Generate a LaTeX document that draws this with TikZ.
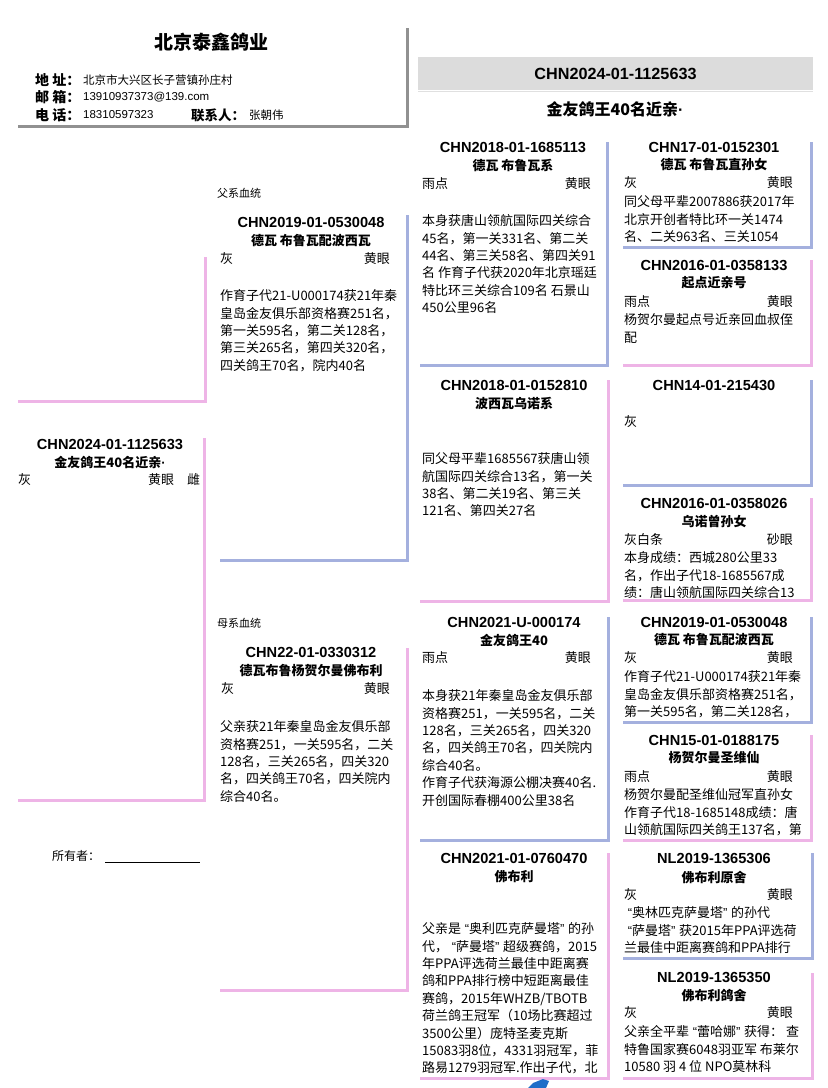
\documentclass[tikz,border=0pt]{standalone}
\usepackage{fontspec}
\setmainfont{Noto Sans CJK SC}
\newfontfamily\lat{Liberation Sans}
\newcommand\oq{\hbox to 8pt{\hss\lat “}}
\newcommand\cq{\hbox to 8pt{\lat ”\hss}}
\newcommand\mdot{{\lat ·}}
\definecolor{bl}{RGB}{164,176,222}
\definecolor{pk}{RGB}{238,180,230}
\definecolor{shd}{RGB}{145,145,145}
\definecolor{bandc}{RGB}{220,220,220}
\definecolor{logo}{RGB}{30,110,200}
\begin{document}
\begin{tikzpicture}[x=1pt,y=-1pt,
  cardbox/.style={anchor=north west, inner sep=0, outer sep=0},
  idt/.style={font=\lat\bfseries\fontsize{14.6}{16}\selectfont, inner sep=0},
  nmt/.style={font=\bfseries\fontsize{13}{16}\selectfont, inner sep=0},
  txt/.style={font=\fontsize{13}{17.4}\selectfont, inner sep=0},
  bodyt/.style={font=\fontsize{13}{17.4}\selectfont, inner sep=0, anchor=north west, align=left},
  labt/.style={font=\bfseries\fontsize{14}{16}\selectfont, inner sep=0, anchor=west},
  valt/.style={font=\fontsize{11.5}{14}\selectfont, inner sep=0, anchor=west},
  mb/.style={draw=bl, line width=3pt, line join=miter},
  fb/.style={draw=pk, line width=3pt, line join=miter},
]
\useasboundingbox[fill=white] (0,0) rectangle (828,1088);

% ---------- header ----------
\node[cardbox, minimum width=389, minimum height=98] (hdr) at (18,28) {};
\draw[draw=shd, line width=3pt] (hdr.north east) -- (hdr.south east) -- (hdr.south west);
\node[font=\bfseries\fontsize{19}{22}\selectfont, inner sep=0] (title) at (211,42) {北京泰鑫鸽业};
\node[labt] (l1) at (35,80) {地 址：};
\node[valt] (v1) at (83,80) {北京市大兴区长子营镇孙庄村};
\node[labt] (l2) at (35,97) {邮 箱：};
\node[valt, font=\lat\fontsize{11.5}{14}\selectfont] (v2) at (83,97) {13910937373@139.com};
\node[labt] (l3) at (35,115) {电 话：};
\node[valt, font=\lat\fontsize{11.5}{14}\selectfont] (v3) at (83,115) {18310597323};
\node[labt, font=\bfseries\fontsize{13.5}{16}\selectfont] (l4) at (191,115) {联系人：};
\node[valt] (v4) at (249,115) {张朝伟};

% ---------- top right band ----------
\draw[draw=black!12, line width=1.5pt] (418,91.5) -- (813,91.5);
\node[cardbox, fill=bandc, minimum width=395, minimum height=33] (band) at (418,57) {};
\node[font=\lat\bfseries\fontsize{16.2}{18}\selectfont, inner sep=0] (bandid) at (band.center) {CHN2024-01-1125633};
\node[font=\bfseries\fontsize{16}{18}\selectfont, inner sep=0] (bandnm) at (615,109) {金友鸽王40名近亲\mdot};

% ---------- subject column ----------
\node[cardbox, minimum width=187, minimum height=144] (sp) at (18,257) {};
\draw[fb] (sp.north east) -- (sp.south east) -- (sp.south west);
\node[cardbox, minimum width=186, minimum height=362] (subj) at (18,438) {};
\draw[fb] (subj.north east) -- (subj.south east) -- (subj.south west);
\node[idt] (sid) at (110,444) {CHN2024-01-1125633};
\node[nmt] (snm) at (110,462) {金友鸽王40名近亲\mdot};
\node[txt, anchor=west] (sc) at (18,480) {灰};
\node[txt, anchor=west] (se) at (148,480) {黄眼};
\node[txt, anchor=west] (ss) at (187,480) {雌};
\node[font=\fontsize{12}{14}\selectfont, inner sep=0, anchor=west] (own) at (52,856) {所有者：};
\coordinate (ownend) at (200,862);
\draw[line width=0.8pt] (own.east |- ownend) ++(5,0) -- (ownend);

% ---------- parents ----------
\node[font=\fontsize{11}{13}\selectfont, inner sep=0, anchor=west] (fx) at (217,193) {父系血统};
\node[cardbox, minimum width=187, minimum height=345] (sire) at (220,215) {};
\draw[mb] (sire.north east) -- (sire.south east) -- (sire.south west);
\node[idt] (sireid) at (311,222) {CHN2019-01-0530048};
\node[nmt] (sirenm) at (311,241) {德瓦 布鲁瓦配波西瓦};
\node[txt, anchor=west] (sirec) at (220,259) {灰};
\node[txt, anchor=east] (siree) at (390,259) {黄眼};
\node[bodyt] (sireb) at (220,289.5) {作育子代21-U000174获21年秦\\皇岛金友俱乐部资格赛251名，\\第一关595名，第二关128名，\\第三关265名，第四关320名，\\四关鸽王70名，院内40名};

\node[font=\fontsize{11}{13}\selectfont, inner sep=0, anchor=west] (mx) at (217,623) {母系血统};
\node[cardbox, minimum width=187, minimum height=342] (dam) at (220,648) {};
\draw[fb] (dam.north east) -- (dam.south east) -- (dam.south west);
\node[idt] (damid) at (311,652) {CHN22-01-0330312};
\node[nmt] (damnm) at (311,671) {德瓦布鲁杨贺尔曼佛布利};
\node[txt, anchor=west] (damc) at (221,689) {灰};
\node[txt, anchor=east] (dame) at (390,689) {黄眼};
\node[bodyt] (damb) at (220,720.5) {父亲获21年秦皇岛金友俱乐部\\资格赛251，一关595名，二关\\128名，三关265名，四关320\\名，四关鸽王70名，四关院内\\综合40名。};

% ---------- grandparents ----------
\node[cardbox, minimum width=187, minimum height=223] (gA) at (420,142) {};
\draw[mb] (gA.north east) -- (gA.south east) -- (gA.south west);
\node[idt] (gAid) at (513,147) {CHN2018-01-1685113};
\node[nmt] (gAnm) at (513,165) {德瓦 布鲁瓦系};
\node[txt, anchor=west] (gAc) at (422,184) {雨点};
\node[txt, anchor=east] (gAe) at (591,184) {黄眼};
\node[bodyt] (gAb) at (422,214.5) {本身获唐山领航国际四关综合\\45名，第一关331名、第二关\\44名、第三关58名、第四关91\\名 作育子代获2020年北京瑶廷\\特比环三关综合109名 石景山\\450公里96名};

\node[cardbox, minimum width=188, minimum height=221] (gB) at (420,380) {};
\draw[fb] (gB.north east) -- (gB.south east) -- (gB.south west);
\node[idt] (gBid) at (514,385) {CHN2018-01-0152810};
\node[nmt] (gBnm) at (514,403) {波西瓦乌诺系};
\node[bodyt] (gBb) at (422,452.5) {同父母平辈1685567获唐山领\\航国际四关综合13名，第一关\\38名、第二关19名、第三关\\121名、第四关27名};

\node[cardbox, minimum width=188, minimum height=223] (gC) at (420,617) {};
\draw[mb] (gC.north east) -- (gC.south east) -- (gC.south west);
\node[idt] (gCid) at (514,622) {CHN2021-U-000174};
\node[nmt] (gCnm) at (514,640) {金友鸽王40};
\node[txt, anchor=west] (gCc) at (422,658) {雨点};
\node[txt, anchor=east] (gCe) at (591,658) {黄眼};
\node[bodyt] (gCb) at (422,689.5) {本身获21年秦皇岛金友俱乐部\\资格赛251，一关595名，二关\\128名，三关265名，四关320\\名，四关鸽王70名，四关院内\\综合40名。\\作育子代获海源公棚决赛40名.\\开创国际春棚400公里38名};

\node[cardbox, minimum width=188, minimum height=225] (gD) at (420,853) {};
\draw[fb] (gD.north east) -- (gD.south east) -- (gD.south west);
\node[idt] (gDid) at (514,858) {CHN2021-01-0760470};
\node[nmt] (gDnm) at (514,877) {佛布利};
\node[bodyt] (gDb) at (422,922.5) {父亲是\oq 奥利匹克萨曼塔\cq 的孙\\代，\oq 萨曼塔\cq 超级赛鸽，2015\\年PPA评选荷兰最佳中距离赛\\鸽和PPA排行榜中短距离最佳\\赛鸽，2015年WHZB/TBOTB\\荷兰鸽王冠军（10场比赛超过\\3500公里）庞特圣麦克斯\\15083羽8位，4331羽冠军，菲\\路易1279羽冠军.作出子代，北};

% ---------- great-grandparents ----------
\node[cardbox, minimum width=188, minimum height=105] (c1) at (623,142) {};
\draw[mb] (c1.north east) -- (c1.south east) -- (c1.south west);
\node[idt] (c1id) at (714,147) {CHN17-01-0152301};
\node[nmt] (c1nm) at (714,165) {德瓦 布鲁瓦直孙女};
\node[txt, anchor=west] (c1c) at (624,183) {灰};
\node[txt, anchor=east] (c1e) at (793,183) {黄眼};
\node[bodyt] (c1b) at (624,195.5) {同父母平辈2007886获2017年\\北京开创者特比环一关1474\\名、二关963名、三关1054};

\node[cardbox, minimum width=188, minimum height=105] (c2) at (623,260) {};
\draw[fb] (c2.north east) -- (c2.south east) -- (c2.south west);
\node[idt] (c2id) at (714,265) {CHN2016-01-0358133};
\node[nmt] (c2nm) at (714,283) {起点近亲号};
\node[txt, anchor=west] (c2c) at (624,302) {雨点};
\node[txt, anchor=east] (c2e) at (793,302) {黄眼};
\node[bodyt] (c2b) at (624,313.5) {杨贺尔曼起点号近亲回血叔侄\\配};

\node[cardbox, minimum width=188, minimum height=105] (c3) at (623,380) {};
\draw[mb] (c3.north east) -- (c3.south east) -- (c3.south west);
\node[idt] (c3id) at (714,385) {CHN14-01-215430};
\node[txt, anchor=west] (c3c) at (624,422) {灰};

\node[cardbox, minimum width=188, minimum height=102] (c4) at (623,498) {};
\draw[fb] (c4.north east) -- (c4.south east) -- (c4.south west);
\node[idt] (c4id) at (714,503) {CHN2016-01-0358026};
\node[nmt] (c4nm) at (714,522) {乌诺曾孙女};
\node[txt, anchor=west] (c4c) at (624,540) {灰白条};
\node[txt, anchor=east] (c4e) at (793,540) {砂眼};
\node[bodyt] (c4b) at (624,551.5) {本身成绩：西城280公里33\\名，作出子代18-1685567成\\绩：唐山领航国际四关综合13};

\node[cardbox, minimum width=188, minimum height=105] (c5) at (623,617) {};
\draw[mb] (c5.north east) -- (c5.south east) -- (c5.south west);
\node[idt] (c5id) at (714,622) {CHN2019-01-0530048};
\node[nmt] (c5nm) at (714,640) {德瓦 布鲁瓦配波西瓦};
\node[txt, anchor=west] (c5c) at (624,658) {灰};
\node[txt, anchor=east] (c5e) at (793,658) {黄眼};
\node[bodyt] (c5b) at (624,670.5) {作育子代21-U000174获21年秦\\皇岛金友俱乐部资格赛251名，\\第一关595名，第二关128名，};

\node[cardbox, minimum width=188, minimum height=105] (c6) at (623,735) {};
\draw[fb] (c6.north east) -- (c6.south east) -- (c6.south west);
\node[idt] (c6id) at (714,740) {CHN15-01-0188175};
\node[nmt] (c6nm) at (714,758) {杨贺尔曼圣维仙};
\node[txt, anchor=west] (c6c) at (624,777) {雨点};
\node[txt, anchor=east] (c6e) at (793,777) {黄眼};
\node[bodyt] (c6b) at (624,788.5) {杨贺尔曼配圣维仙冠军直孙女\\作育子代18-1685148成绩：唐\\山领航国际四关鸽王137名，第};

\node[cardbox, minimum width=189, minimum height=105] (c7) at (623,853) {};
\draw[mb] (c7.north east) -- (c7.south east) -- (c7.south west);
\node[idt] (c7id) at (714,858) {NL2019-1365306};
\node[nmt] (c7nm) at (714,877) {佛布利原舍};
\node[txt, anchor=west] (c7c) at (624,895) {灰};
\node[txt, anchor=east] (c7e) at (793,895) {黄眼};
\node[bodyt] (c7b) at (624,906.5) {\oq 奥林匹克萨曼塔\cq 的孙代\\\oq 萨曼塔\cq 获2015年PPA评选荷\\兰最佳中距离赛鸽和PPA排行};

\node[cardbox, minimum width=189, minimum height=105] (c8) at (623,973) {};
\draw[fb] (c8.north east) -- (c8.south east) -- (c8.south west);
\node[idt] (c8id) at (714,977) {NL2019-1365350};
\node[nmt] (c8nm) at (714,995) {佛布利鸽舍};
\node[txt, anchor=west] (c8c) at (624,1013) {灰};
\node[txt, anchor=east] (c8e) at (793,1013) {黄眼};
\node[bodyt] (c8b) at (624,1025.5) {父亲全平辈\oq 蕾哈娜\cq 获得： 查\\特鲁国家赛6048羽亚军 布莱尔\\10580 羽 4 位 NPO莫林科};

% ---------- logo fragment ----------
\fill[logo] (528,1088) -- (533,1083) -- (543,1079) -- (549,1081) -- (546,1088) -- cycle;
\end{tikzpicture}
\end{document}
